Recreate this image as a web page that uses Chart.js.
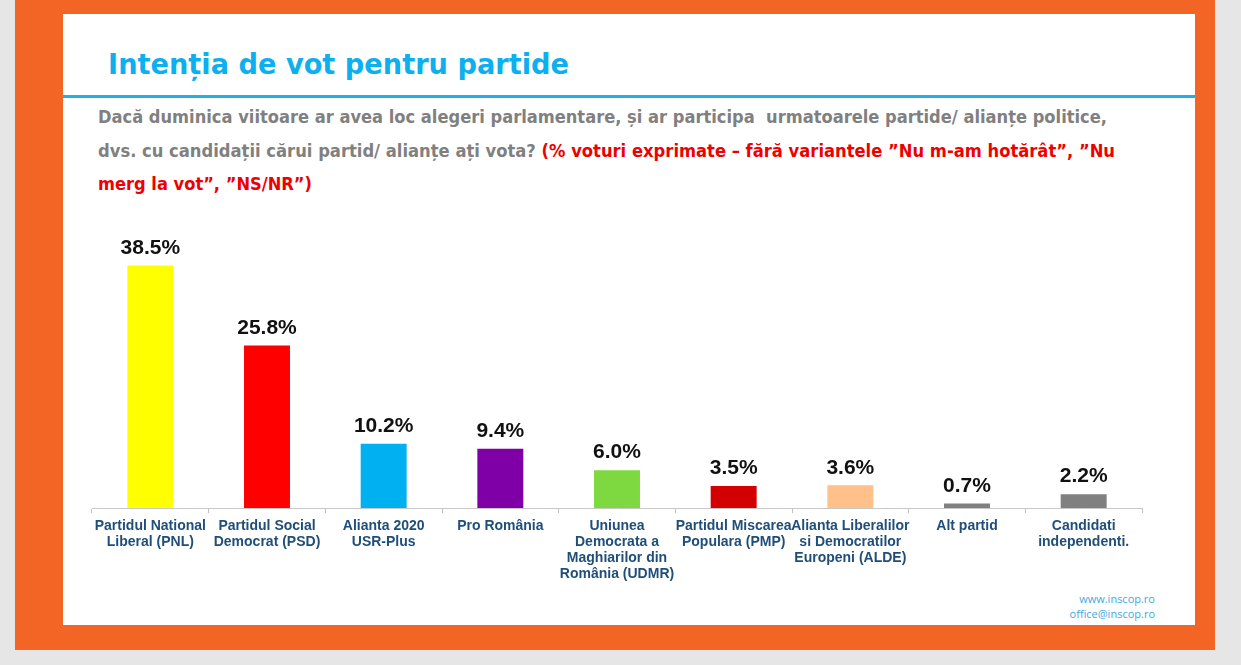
<!DOCTYPE html>
<html>
<head>
<meta charset="utf-8">
<script src="https://cdn.jsdelivr.net/npm/chart.js@4.4.1/dist/chart.umd.min.js"></script>
<style>
  html, body { margin: 0; padding: 0; }
  body { width: 1241px; height: 665px; background: #e6e6e6; position: relative; overflow: hidden; }
  #frame { position: absolute; left: 15px; top: 0; width: 1200px; height: 650px; background: #f26524; }
  #card { position: absolute; left: 63px; top: 14px; width: 1132px; height: 611px; background: #fff; }
  .txt { position: absolute; white-space: pre; transform-origin: 0 50%; line-height: 1; }
  #title { left: 108px; top: 48px; font: bold 28px Tahoma, Verdana, "DejaVu Sans", sans-serif; color: #0db0ee; }
  #rule { position: absolute; left: 63px; top: 95px; width: 1132px; height: 3px; background: #25aee6; }
  .sub { font: bold 17px Tahoma, Verdana, "DejaVu Sans", sans-serif; color: #808080; left: 98px; }
  .red { color: #ee0000; }
  .foot { position: absolute; right: 86px; font: 11px "Open Sans", sans-serif; color: #3fa9de; }
  #chartBox { position: absolute; left: 80px; top: 220px; width: 1090px; height: 380px; }
</style>
</head>
<body>
<div id="frame"></div>
<div id="card"></div>
<div id="title" class="txt" data-w="461">Intenția de vot pentru partide</div>
<div id="rule"></div>
<div class="txt sub" style="top:107px" data-w="1009">Dacă duminica viitoare ar avea loc alegeri parlamentare, și ar participa  urmatoarele partide/ alianțe politice,</div>
<div class="txt sub" style="top:141px" data-w="1017">dvs. cu candidații cărui partid/ alianțe ați vota? <span class="red">(% voturi exprimate – fără variantele ”Nu m-am hotărât”, ”Nu</span></div>
<div class="txt sub red" style="top:174px" data-w="214">merg la vot”, ”NS/NR”)</div>
<div class="foot" style="top:591px">www.inscop.ro</div>
<div class="foot" style="top:606px">office@inscop.ro</div>
<div id="chartBox"><canvas id="chart"></canvas></div>

<script>
const categories = [
  ['Partidul National', 'Liberal (PNL)'],
  ['Partidul Social', 'Democrat (PSD)'],
  ['Alianta 2020', 'USR-Plus'],
  ['Pro România'],
  ['Uniunea', 'Democrata a', 'Maghiarilor din', 'România (UDMR)'],
  ['Partidul Miscarea', 'Populara (PMP)'],
  ['Alianta Liberalilor', 'si Democratilor', 'Europeni (ALDE)'],
  ['Alt partid'],
  ['Candidati', 'independenti.']
];
const voteShare = [38.5, 25.8, 10.2, 9.4, 6.0, 3.5, 3.6, 0.7, 2.2];
const barColors = ['#ffff00', '#ff0000', '#00b0f0', '#7f00a6', '#7ed83f', '#d20000', '#ffc08a', '#808080', '#808080'];

// stretch header lines to the widths seen in the picture
document.querySelectorAll('.txt[data-w]').forEach(el => {
  const w = el.getBoundingClientRect().width;
  el.style.transform = `scaleX(${el.dataset.w / w})`;
});

// value labels above each bar
const valueLabels = {
  id: 'valueLabels',
  afterDatasetsDraw(chart) {
    const { ctx } = chart;
    const meta = chart.getDatasetMeta(0);
    ctx.save();
    ctx.font = 'bold 21px "Liberation Sans", Arial, sans-serif';
    ctx.fillStyle = '#111';
    ctx.textAlign = 'center';
    ctx.textBaseline = 'bottom';
    meta.data.forEach((bar, i) => {
      ctx.fillText(voteShare[i].toFixed(1) + '%', bar.x, bar.y - 7);
    });
    ctx.restore();
  }
};

new Chart(document.getElementById('chart'), {
  type: 'bar',
  data: {
    labels: categories,
    datasets: [{
      data: voteShare,
      backgroundColor: barColors,
      barPercentage: 0.394,
      categoryPercentage: 1
    }]
  },
  options: {
    responsive: true,
    maintainAspectRatio: false,
    animation: false,
    layout: { padding: { left: 12, right: 28, top: 36, bottom: 12 } },
    plugins: {
      legend: { display: false },
      tooltip: { enabled: false }
    },
    scales: {
      x: {
        grid: {
          offset: true,
          drawOnChartArea: false,
          tickLength: 5,
          color: '#bfbfbf'
        },
        border: { color: '#c8c8c8', width: 1 },
        ticks: {
          color: '#1f4e79',
          padding: 5,
          maxRotation: 0,
          autoSkip: false,
          font: { family: '"Liberation Sans", Arial, sans-serif', size: 14, weight: 'bold', lineHeight: 1.15 }
        },
        afterFit(scale) { scale.height = 80; }
      },
      y: {
        display: false,
        min: 0,
        max: 40
      }
    }
  },
  plugins: [valueLabels]
});
</script>
</body>
</html>
